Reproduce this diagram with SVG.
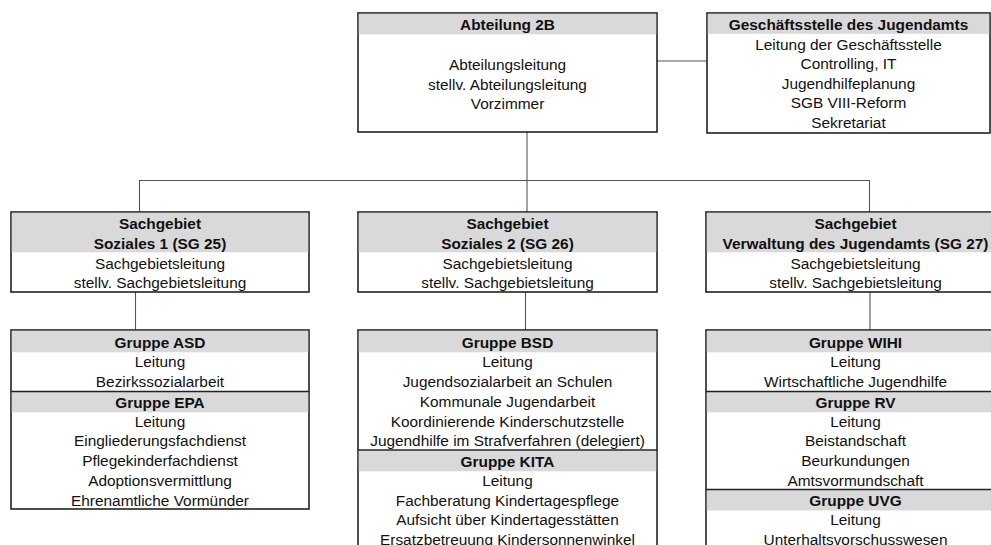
<svg xmlns="http://www.w3.org/2000/svg" width="991" height="545" viewBox="0 0 991 545">
<style>
.box{fill:#fff;stroke:#222;stroke-width:1.6}
.hd{fill:#d9d9d9}
.div{stroke:#222;stroke-width:1.6}
.c{fill:none;stroke:#555;stroke-width:1.1}
text{font-family:"Liberation Sans",Arial,sans-serif;font-size:15.4px;fill:#111;text-anchor:middle}
.b{font-weight:bold}
</style>
<rect width="991" height="545" fill="#fff"/>
<g id="connectors">
<path class="c" d="M657 61H707"/>
<path class="c" d="M527 132V180.5"/>
<path class="c" d="M139.5 212V180.5H869.5V212"/>
<path class="c" d="M527 180.5V212"/>
<path class="c" d="M135.5 292V330"/>
<path class="c" d="M525.5 292V330"/>
<path class="c" d="M870 292V330"/>
</g>
<g id="abteilung">
<rect class="box" x="358" y="13" width="299" height="119"/>
<rect class="hd" x="358.8" y="13.8" width="297.4" height="20.5"/>
<text class="b" x="507.5" y="29.5">Abteilung 2B</text>
<text x="507.5" y="70">Abteilungsleitung</text>
<text x="507.5" y="89.5">stellv. Abteilungsleitung</text>
<text x="507.5" y="109">Vorzimmer</text>
</g>
<g id="geschaeftsstelle">
<rect class="box" x="707" y="13" width="283" height="120"/>
<rect class="hd" x="707.8" y="13.8" width="281.4" height="20"/>
<text class="b" x="848.5" y="29.5">Geschäftsstelle des Jugendamts</text>
<text x="848.5" y="49.5">Leitung der Geschäftsstelle</text>
<text x="848.5" y="69">Controlling, IT</text>
<text x="848.5" y="88.5">Jugendhilfeplanung</text>
<text x="848.5" y="108">SGB VIII-Reform</text>
<text x="848.5" y="128">Sekretariat</text>
</g>
<g id="sg25">
<rect class="box" x="11" y="212" width="298" height="80"/>
<rect class="hd" x="11.8" y="212.8" width="296.4" height="39.5"/>
<text class="b" x="160" y="228.5">Sachgebiet</text>
<text class="b" x="160" y="248.5">Soziales 1 (SG 25)</text>
<text x="160" y="268.5">Sachgebietsleitung</text>
<text x="160" y="288">stellv. Sachgebietsleitung</text>
</g>
<g id="sg26">
<rect class="box" x="358" y="212" width="299" height="80"/>
<rect class="hd" x="358.8" y="212.8" width="297.4" height="39.5"/>
<text class="b" x="507.5" y="228.5">Sachgebiet</text>
<text class="b" x="507.5" y="248.5">Soziales 2 (SG 26)</text>
<text x="507.5" y="268.5">Sachgebietsleitung</text>
<text x="507.5" y="288">stellv. Sachgebietsleitung</text>
</g>
<g id="sg27">
<rect class="box" x="706" y="212" width="299" height="80"/>
<rect class="hd" x="706.8" y="212.8" width="297.4" height="39.5"/>
<text class="b" x="855.5" y="228.5">Sachgebiet</text>
<text class="b" x="855.5" y="248.5">Verwaltung des Jugendamts (SG 27)</text>
<text x="855.5" y="268.5">Sachgebietsleitung</text>
<text x="855.5" y="288">stellv. Sachgebietsleitung</text>
</g>
<g id="asd-epa">
<rect class="box" x="11" y="330" width="298" height="179"/>
<rect class="hd" x="11.8" y="330.8" width="296.4" height="21.5"/>
<rect class="hd" x="11.8" y="391.8" width="296.4" height="20.5"/>
<path class="div" d="M11 391.5H309"/>
<text class="b" x="160" y="347.5">Gruppe ASD</text>
<text x="160" y="367.2">Leitung</text>
<text x="160" y="387">Bezirkssozialarbeit</text>
<text class="b" x="160" y="407.7">Gruppe EPA</text>
<text x="160" y="426.5">Leitung</text>
<text x="160" y="446.2">Eingliederungsfachdienst</text>
<text x="160" y="466">Pflegekinderfachdienst</text>
<text x="160" y="485.7">Adoptionsvermittlung</text>
<text x="160" y="505.5">Ehrenamtliche Vormünder</text>
</g>
<g id="bsd-kita">
<rect class="box" x="358" y="330" width="299" height="240"/>
<rect class="hd" x="358.8" y="330.8" width="297.4" height="21.5"/>
<rect class="hd" x="358.8" y="450.8" width="297.4" height="20.5"/>
<path class="div" d="M358 450H657"/>
<text class="b" x="507.5" y="347.5">Gruppe BSD</text>
<text x="507.5" y="367.2">Leitung</text>
<text x="507.5" y="387">Jugendsozialarbeit an Schulen</text>
<text x="507.5" y="406.7">Kommunale Jugendarbeit</text>
<text x="507.5" y="426.5">Koordinierende Kinderschutzstelle</text>
<text x="507.5" y="446.2">Jugendhilfe im Strafverfahren (delegiert)</text>
<text class="b" x="507.5" y="466.5">Gruppe KITA</text>
<text x="507.5" y="485.7">Leitung</text>
<text x="507.5" y="505.5">Fachberatung Kindertagespflege</text>
<text x="507.5" y="525.2">Aufsicht über Kindertagesstätten</text>
<text x="507.5" y="545">Ersatzbetreuung Kindersonnenwinkel</text>
</g>
<g id="wihi-rv-uvg">
<rect class="box" x="706" y="330" width="299" height="240"/>
<rect class="hd" x="706.8" y="330.8" width="297.4" height="21.5"/>
<rect class="hd" x="706.8" y="391.8" width="297.4" height="20.5"/>
<rect class="hd" x="706.8" y="490" width="297.4" height="20.5"/>
<path class="div" d="M706 391.5H1005M706 489.5H1005"/>
<text class="b" x="855.5" y="347.5">Gruppe WIHI</text>
<text x="855.5" y="367.2">Leitung</text>
<text x="855.5" y="387">Wirtschaftliche Jugendhilfe</text>
<text class="b" x="855.5" y="407.7">Gruppe RV</text>
<text x="855.5" y="426.5">Leitung</text>
<text x="855.5" y="446.2">Beistandschaft</text>
<text x="855.5" y="466">Beurkundungen</text>
<text x="855.5" y="485.7">Amtsvormundschaft</text>
<text class="b" x="855.5" y="506">Gruppe UVG</text>
<text x="855.5" y="525.2">Leitung</text>
<text x="855.5" y="545">Unterhaltsvorschusswesen</text>
</g>
</svg>
